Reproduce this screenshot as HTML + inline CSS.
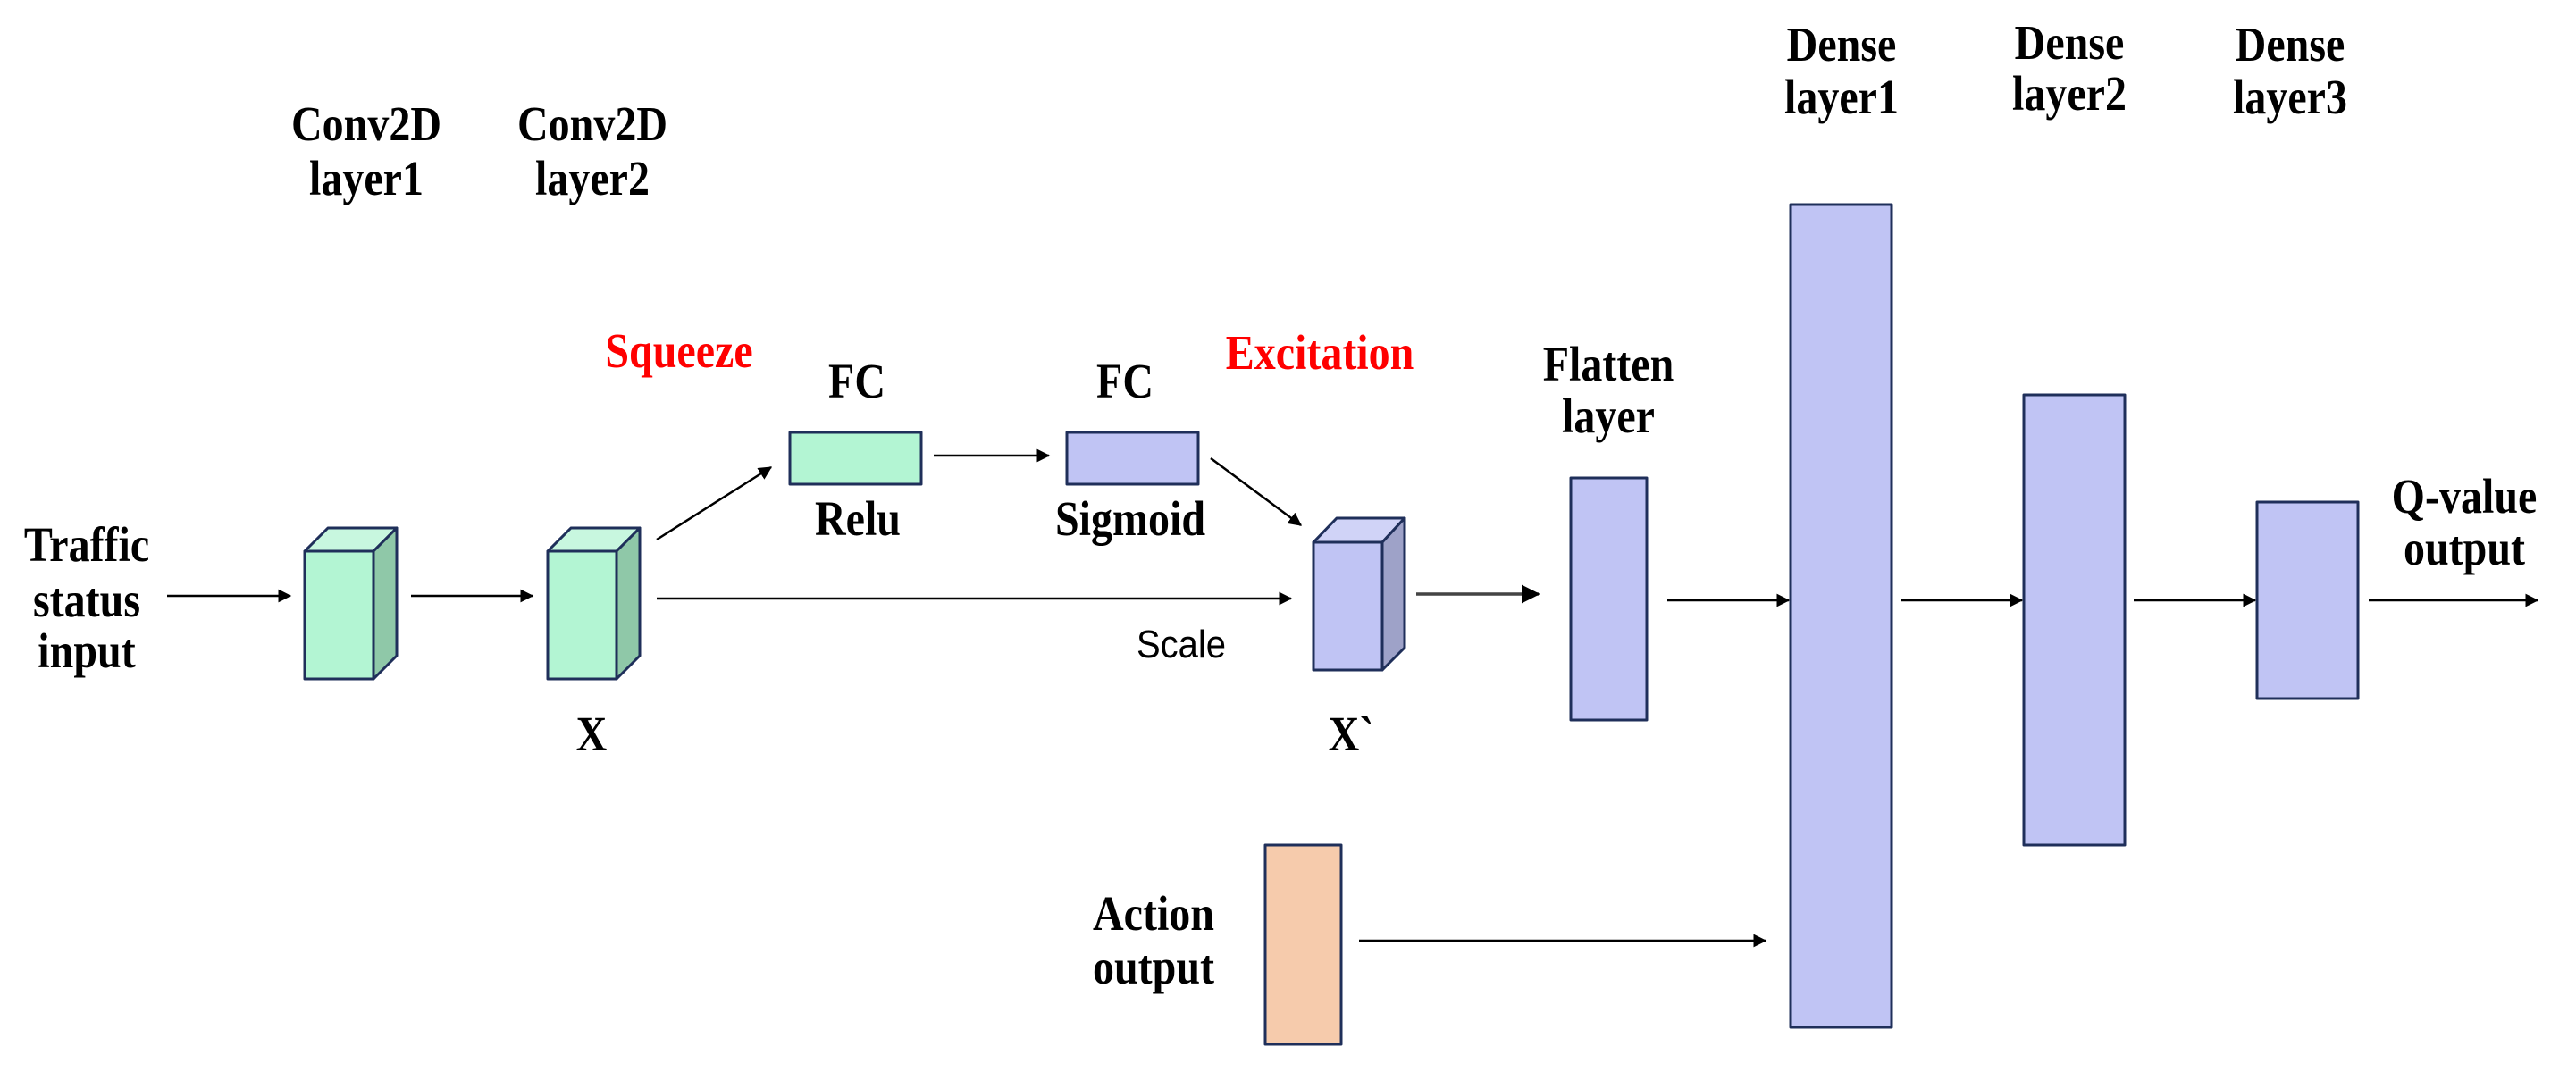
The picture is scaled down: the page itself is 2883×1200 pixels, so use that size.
<!DOCTYPE html>
<html><head><meta charset="utf-8"><style>
html,body{margin:0;padding:0;background:#fff;}
svg{display:block;}
text{font-family:"Liberation Serif",serif;font-weight:bold;font-size:48px;fill:#000;text-anchor:middle;}
</style></head><body>
<svg width="2883" height="1200" viewBox="0 0 2883 1200" xmlns="http://www.w3.org/2000/svg">
<defs>
<marker id="ah" markerWidth="6" markerHeight="6" refX="5.5" refY="3" orient="auto" markerUnits="strokeWidth">
<path d="M0,0 L6,3 L0,6 z" fill="#000"/></marker>
</defs>
<g stroke="#1f2f5a" stroke-width="3" stroke-linejoin="round">
<polygon points="341,617 367,591 444,591 418,617" fill="#c8f7df"/>
<polygon points="418,617 444,591 444,734 418,760" fill="#8fc8a8"/>
<rect x="341" y="617" width="77" height="143" fill="#b3f5d3"/>
<polygon points="613,617 639,591 716,591 690,617" fill="#c8f7df"/>
<polygon points="690,617 716,591 716,734 690,760" fill="#8fc8a8"/>
<rect x="613" y="617" width="77" height="143" fill="#b3f5d3"/>
<polygon points="1470,607 1496,580 1572,580 1547,607" fill="#d0d3f7"/>
<polygon points="1547,607 1572,580 1572,725 1547,750" fill="#9ea2c8"/>
<rect x="1470" y="607" width="77" height="143" fill="#c0c4f4"/>
<rect x="884" y="484" width="147" height="58" fill="#b3f5d3"/>
<rect x="1194" y="484" width="147" height="58" fill="#c0c4f4"/>
<rect x="1758" y="535" width="85" height="271" fill="#c0c4f4"/>
<rect x="2004" y="229" width="113" height="921" fill="#c0c4f4"/>
<rect x="2265" y="442" width="113" height="504" fill="#c0c4f4"/>
<rect x="2526" y="562" width="113" height="220" fill="#c0c4f4"/>
<rect x="1416" y="946" width="85" height="223" fill="#f6cbac"/>
</g>
<g stroke="#000" stroke-width="2.5" fill="none" marker-end="url(#ah)">
<line x1="187" y1="667" x2="325" y2="667"/>
<line x1="460" y1="667" x2="596" y2="667"/>
<line x1="735" y1="670" x2="1445" y2="670"/>
<line x1="735" y1="604" x2="863" y2="523"/>
<line x1="1045" y1="510" x2="1174" y2="510"/>
<line x1="1355" y1="513" x2="1456" y2="588"/>
<line x1="1585" y1="665" x2="1722" y2="665" stroke="#444" stroke-width="3.5"/>
<line x1="1866" y1="672" x2="2002" y2="672"/>
<line x1="2127" y1="672" x2="2263" y2="672"/>
<line x1="2388" y1="672" x2="2524" y2="672"/>
<line x1="2651" y1="672" x2="2840" y2="672"/>
<line x1="1521" y1="1053" x2="1976" y2="1053"/>
</g>
<g>
<text transform="translate(410,157) scale(1,1.15)">Conv2D</text><text transform="translate(410,218) scale(1,1.15)">layer1</text>
<text transform="translate(663,157) scale(1,1.15)">Conv2D</text><text transform="translate(663,218) scale(1,1.15)">layer2</text>
<text transform="translate(2061,68) scale(1,1.15)">Dense</text><text transform="translate(2061,127) scale(1,1.15)">layer1</text>
<text transform="translate(2316,66) scale(1,1.15)">Dense</text><text transform="translate(2316,123) scale(1,1.15)">layer2</text>
<text transform="translate(2563,68) scale(1,1.15)">Dense</text><text transform="translate(2563,127) scale(1,1.15)">layer3</text>
<text transform="translate(760,411) scale(1,1.15)" style="fill:#f00">Squeeze</text>
<text transform="translate(1477,413) scale(1,1.15)" style="fill:#f00">Excitation</text>
<text transform="translate(959,445) scale(1,1.15)">FC</text><text transform="translate(1259,445) scale(1,1.15)">FC</text>
<text transform="translate(960,599) scale(1,1.15)">Relu</text><text transform="translate(1265,599) scale(1,1.15)">Sigmoid</text>
<text transform="translate(1800,426) scale(1,1.15)">Flatten</text><text transform="translate(1800,484) scale(1,1.15)">layer</text>
<text transform="translate(97,628) scale(1,1.15)">Traffic</text><text transform="translate(97,690) scale(1,1.15)">status</text><text transform="translate(97,747) scale(1,1.15)">input</text>
<text transform="translate(662,840) scale(1,1.15)">X</text>
<text transform="translate(1512,840) scale(1,1.15)">X`</text>
<text transform="translate(1322,736) scale(1,1.1)" style="font-weight:normal;font-family:'Liberation Sans',sans-serif;font-size:40px">Scale</text>
<text transform="translate(1291,1041) scale(1,1.15)">Action</text><text transform="translate(1291,1101) scale(1,1.15)">output</text>
<text transform="translate(2758,574) scale(1,1.15)">Q-value</text><text transform="translate(2758,632) scale(1,1.15)">output</text>
</g>
</svg>
</body></html>
